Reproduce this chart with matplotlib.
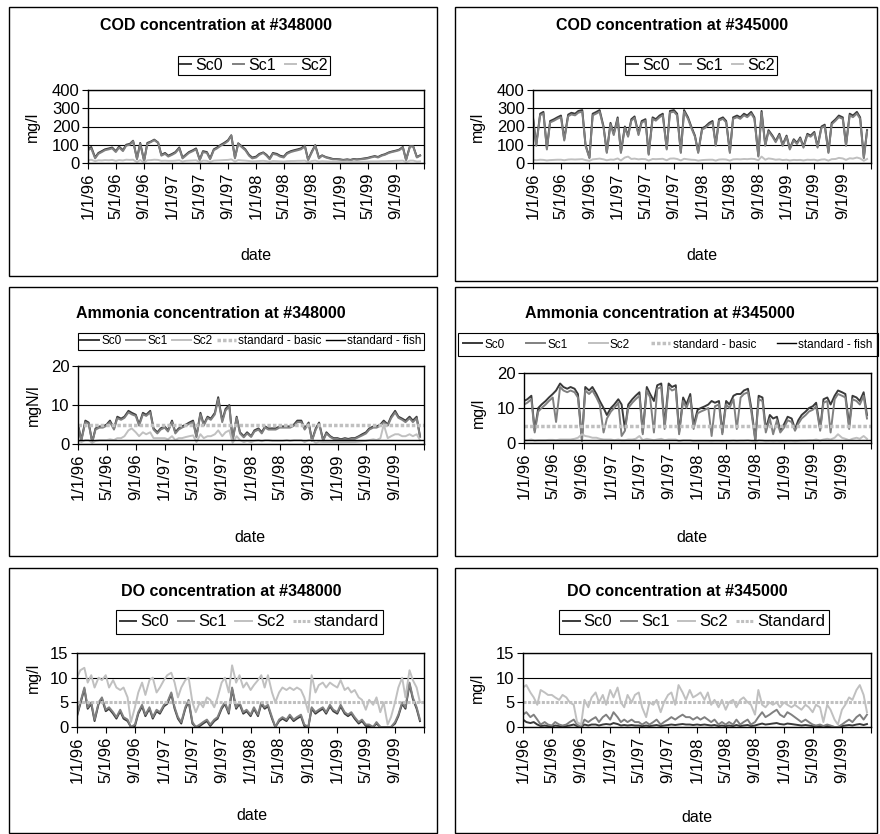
import matplotlib
matplotlib.use('Agg')
import matplotlib.pyplot as plt
import matplotlib.patches as patches
import pandas as pd

plt.rcParams['font.family'] = ['Liberation Sans', 'DejaVu Sans']

# Colours (Excel greyscale)
SC0_COLOR = '#3a3a3a'
SC1_COLOR = '#808080'
SC2_COLOR = '#c0c0c0'
STD_COLOR = '#c0c0c0'

# Semi-monthly sample dates, Jan 1996 - Dec 1999
DATES = pd.date_range('1996-01-01', periods=96, freq='SMS')

TICK_DATES = pd.to_datetime(['1996-01-01', '1996-05-01', '1996-09-01', '1997-01-01',
                             '1997-05-01', '1997-09-01', '1998-01-01', '1998-05-01',
                             '1998-09-01', '1999-01-01', '1999-05-01', '1999-09-01',
                             '2000-01-01'])
TICK_LABELS = ['1/1/96', '5/1/96', '9/1/96', '1/1/97', '5/1/97', '9/1/97', '1/1/98',
               '5/1/98', '9/1/98', '1/1/99', '5/1/99', '9/1/99', '']

# ---- COD at #348000 (mg/l)
cod348_sc0 = [75, 88, 30, 55, 65, 75, 80, 85, 65, 90, 70, 100, 105, 122, 25, 110, 12, 110, 118, 128, 112, 45, 55, 40,
              50, 60, 85, 30, 45, 60, 70, 80, 18, 65, 60, 25, 75, 85, 100, 110, 125, 152, 30, 108, 90, 75, 45, 30,
              35, 50, 58, 45, 25, 55, 50, 40, 35, 55, 65, 70, 75, 80, 95, 18, 65, 98, 30, 42, 32, 28, 22, 22,
              20, 17, 20, 17, 22, 20, 22, 25, 28, 33, 38, 33, 43, 48, 58, 63, 68, 73, 88, 18, 93, 92, 33, 42]
cod348_sc1 = [70, 80, 25, 50, 60, 70, 75, 80, 60, 85, 65, 95, 100, 120, 20, 105, 10, 105, 115, 125, 110, 40, 50, 35,
              45, 55, 80, 25, 40, 55, 65, 75, 15, 60, 55, 20, 70, 80, 95, 105, 120, 150, 25, 105, 85, 70, 40, 25,
              30, 45, 55, 40, 20, 50, 45, 35, 30, 50, 60, 65, 70, 75, 90, 15, 60, 95, 25, 40, 30, 25, 20, 20,
              18, 15, 18, 15, 20, 18, 20, 22, 25, 30, 35, 30, 40, 45, 55, 60, 65, 70, 85, 15, 90, 90, 30, 40]
cod348_sc2 = [15, 18, 10, 15, 14, 16, 15, 17, 12, 16, 14, 18, 17, 18, 5, 16, 3, 15, 16, 18, 17, 12, 13, 12,
              12, 13, 15, 8, 12, 13, 14, 15, 5, 13, 12, 6, 13, 14, 15, 16, 17, 20, 8, 16, 14, 13, 11, 9,
              10, 11, 12, 10, 7, 11, 10, 9, 8, 10, 11, 11, 12, 12, 13, 5, 11, 13, 8, 10, 9, 8, 8, 8,
              7, 6, 7, 6, 7, 7, 7, 8, 8, 9, 9, 9, 10, 10, 11, 11, 12, 12, 13, 5, 13, 13, 8, 9]

# ---- COD at #345000 (mg/l)
cod345_sc0 = [250, 100, 270, 280, 80, 230, 240, 250, 260, 130, 265, 275, 270, 285, 290, 100, 30, 270, 280, 290, 200, 60, 220, 160,
              250, 60, 200, 150, 240, 255, 160, 230, 240, 50, 250, 240, 260, 270, 80, 285, 290, 270, 60, 290, 250, 200, 150, 60,
              190, 200, 220, 230, 100, 240, 250, 230, 60, 250, 260, 250, 270, 260, 280, 250, 40, 285, 100, 180, 150, 120, 160, 100,
              150, 80, 130, 110, 140, 90, 160, 150, 170, 90, 200, 210, 60, 220, 240, 260, 250, 100, 270, 260, 280, 250, 30, 180]
cod345_sc1 = [242, 94, 262, 271, 74, 222, 232, 242, 251, 123, 256, 266, 261, 276, 281, 94, 26, 261, 271, 281, 193, 55, 212, 153,
              242, 55, 193, 144, 232, 247, 153, 222, 232, 45, 242, 232, 251, 261, 74, 276, 281, 261, 55, 281, 242, 193, 144, 55,
              183, 193, 212, 222, 94, 232, 242, 222, 55, 242, 251, 242, 261, 251, 271, 242, 35, 276, 94, 173, 144, 114, 153, 94,
              144, 74, 124, 104, 134, 84, 153, 144, 163, 84, 193, 202, 55, 212, 232, 251, 242, 94, 261, 251, 271, 242, 26, 173]
cod345_sc2 = [18, 15, 18, 17, 14, 16, 17, 18, 18, 15, 19, 20, 19, 20, 21, 16, 12, 20, 22, 24, 20, 15, 19, 18,
              25, 14, 30, 35, 22, 24, 20, 22, 21, 13, 22, 21, 22, 23, 15, 24, 25, 22, 14, 23, 20, 18, 17, 13,
              16, 17, 18, 18, 13, 19, 20, 19, 13, 20, 21, 20, 22, 21, 23, 22, 15, 35, 18, 25, 22, 18, 20, 16,
              18, 14, 17, 16, 17, 14, 18, 17, 18, 14, 19, 20, 13, 21, 22, 28, 25, 17, 26, 24, 30, 25, 12, 22]

# ---- Ammonia at #348000 (mgN/l)
nh3_348_sc0 = [5, 1, 6, 5.5, 0.5, 4, 4.5, 4.5, 5, 6, 4, 7, 6.5, 7, 8.5, 8, 7.5, 5, 8, 7.5, 8.5, 4, 3, 4,
               4.5, 3.5, 6, 3, 4, 4.5, 5, 5.5, 6, 2, 8, 5, 7, 6.5, 8, 12, 6, 9, 10, 1, 7, 3, 2, 3,
               2, 3.5, 4, 3, 4.5, 4, 4, 4, 4.5, 4.5, 4.5, 4.5, 5, 6, 6, 4, 5.5, 1, 4, 5.5, 1, 3, 2, 1.5,
               1.5, 1.2, 1.5, 1.3, 1.5, 1.5, 2, 2.5, 3, 4, 4.5, 4.5, 5, 6, 5, 7, 8.5, 7, 6.5, 6, 7, 6, 7, 2]
nh3_348_sc1 = [4.7, 0.8, 5.6, 5.2, 0.4, 3.7, 4.2, 4.2, 4.7, 5.6, 3.7, 6.6, 6.2, 6.7, 8.1, 7.6, 7.2, 4.7, 7.6, 7.2, 8.1, 3.7, 2.7, 3.7,
               4.2, 3.2, 5.6, 2.7, 3.7, 4.2, 4.7, 5.2, 5.6, 1.7, 7.6, 4.7, 6.7, 6.2, 7.6, 11.5, 5.6, 8.6, 9.6, 0.8, 6.7, 2.7, 1.7, 2.7,
               1.8, 3.2, 3.7, 2.7, 4.2, 3.7, 3.7, 3.7, 4.2, 4.2, 4.2, 4.2, 4.7, 5.6, 5.6, 3.7, 5.2, 0.8, 3.7, 5.2, 0.8, 2.7, 1.8, 1.3,
               1.3, 1, 1.3, 1.1, 1.3, 1.3, 1.8, 2.2, 2.7, 3.7, 4.2, 4.2, 4.7, 5.6, 4.7, 6.6, 8.1, 6.7, 6.2, 5.6, 6.6, 5.6, 6.6, 1.8]
nh3_348_sc2 = [1, 0.5, 1, 1, 0.3, 0.8, 1, 1, 1, 1.2, 1, 1.5, 1.5, 2, 3.5, 4, 3, 2, 3, 2.5, 3, 1.5, 1.5, 1.5,
               1.5, 1.2, 2, 1, 1.5, 1.5, 1.8, 2, 2.2, 0.5, 2.5, 1.5, 2, 2, 2.5, 3.5, 2, 3, 3.5, 0.3, 2, 1, 0.5, 0.8,
               0.5, 0.8, 1, 0.7, 1, 1, 0.8, 0.8, 0.8, 0.8, 1, 0.8, 1, 1, 1, 0.5, 1, 1, 0.3, 0.6, 0.5, 0.5, 0.5, 0.5,
               0.5, 0.5, 0.5, 0.5, 0.5, 0.5, 0.6, 0.7, 0.8, 1, 1.2, 1, 1.5, 5, 1.5, 2, 2.5, 2.5, 2, 2, 2.5, 2, 2.5, 1]

# ---- Ammonia at #345000 (mg/l)
nh3_345_sc0 = [12, 12.5, 13.5, 3.5, 10, 11, 12, 13, 14, 15, 17, 16, 15.5, 16, 15.5, 14, 1, 16, 15, 16, 14, 12, 10, 8,
               10, 11, 12.5, 11, 4, 11, 12.5, 13.5, 14.5, 3, 16, 14, 12, 16.5, 17, 5, 17, 16, 16.5, 3, 13, 11, 14, 5,
               9.5, 10, 10.5, 11, 12, 11.5, 12, 3, 12, 11, 13.5, 14, 14, 15, 15.5, 10, 1, 13.5, 13, 4, 8, 7, 7.5, 3.5,
               5.5, 7.5, 7, 4, 6.5, 8, 9, 10, 10.5, 11.5, 4, 12.5, 13, 11, 13.5, 15, 14.5, 14, 5, 13.5, 13, 12, 14.5, 8]
nh3_345_sc1 = [11, 11.5, 12.5, 3, 9, 10, 11, 12, 13, 6, 16, 15, 14.5, 15, 14.5, 13, 0.5, 15, 14, 15, 13, 11, 3, 7,
               9, 10, 11.5, 2, 3.5, 10, 11.5, 12.5, 13.5, 2.5, 15, 13, 3, 15.5, 16, 4, 16, 15, 15.5, 2.5, 12, 10, 13, 4,
               8.5, 9, 9.5, 10, 2, 10.5, 11, 2.5, 11, 10, 12.5, 4, 13, 14, 14.5, 9, 0.5, 12.5, 12, 3, 7, 2.5, 6.5, 3,
               4.5, 6.5, 6, 3.5, 5.5, 7, 8, 9, 9.5, 10.5, 3.5, 11.5, 12, 3, 12.5, 14, 13.5, 13, 4, 12.5, 12, 11, 13.5, 7]
nh3_345_sc2 = [0.8, 0.8, 1, 0.7, 0.8, 0.8, 0.8, 0.9, 0.9, 0.8, 1, 1, 1, 1, 1.2, 1.5, 2.5, 2, 1.8, 1.5, 1.5, 1.2, 1, 1,
               1, 0.8, 1, 0.8, 0.8, 1, 1, 1.2, 2, 0.8, 1.2, 1, 0.8, 1, 1.2, 0.8, 1, 1, 1, 0.5, 0.8, 0.8, 0.8, 0.5,
               0.6, 0.6, 0.6, 0.6, 0.5, 0.6, 0.6, 0.5, 0.6, 0.6, 0.7, 0.6, 0.7, 0.7, 0.8, 0.6, 0.3, 0.8, 0.7, 0.5, 0.6, 0.5, 0.6, 0.5,
               0.5, 0.6, 0.6, 0.5, 0.6, 0.7, 0.7, 0.8, 0.8, 1, 0.7, 1, 1.2, 1, 1.5, 2.5, 1.5, 1.2, 0.8, 1.2, 1.5, 1.2, 2, 1.2]

# ---- DO at #348000 (mg/l)
do348_sc0 = [2.2, 4.7, 7.7, 3.7, 4.7, 1.2, 4.7, 5.7, 3.2, 3.7, 2.7, 1.7, 3.2, 1.7, 1.2, 0, 0.2, 2.7, 4.2, 2.2, 3.7, 1.7, 3.2, 2.7,
             4.2, 4.7, 6.7, 3.7, 1.7, 0.7, 3.7, 5.2, 0.7, 0, 0.2, 0.7, 1.2, 0.2, 1.2, 1.7, 3.7, 4.7, 2.7, 7.7, 3.7, 4.7, 2.7, 3.2,
             2.2, 3.7, 2.2, 4.7, 3.7, 4.2, 1.7, 0, 1.2, 1.7, 1.2, 2.2, 1.2, 1.7, 2.2, 0.2, 0, 3.7, 2.7, 3.2, 3.7, 2.7, 4.2, 3.2,
             2.7, 4.2, 2.7, 2.2, 2.7, 1.7, 0.7, 1.2, 0.2, 0.2, 0, 0.7, 0, 0, 0, 0, 0.7, 2.2, 4.7, 3.7, 8.7, 5.7, 3.7, 1.2]
do348_sc1 = [2.5, 5, 8, 4, 5, 1.5, 5, 6, 3.5, 4, 3, 2, 3.5, 2, 1.5, 0, 0.5, 3, 4.5, 2.5, 4, 2, 3.5, 3,
             4.5, 5, 7, 4, 2, 1, 4, 5.5, 1, 0, 0.5, 1, 1.5, 0.5, 1.5, 2, 4, 5, 3, 8, 4, 5, 3, 3.5,
             2.5, 4, 2.5, 5, 4, 4.5, 2, 0, 1.5, 2, 1.5, 2.5, 1.5, 2, 2.5, 0.5, 0, 4, 3, 3.5, 4, 3, 4.5, 3.5,
             3, 4.5, 3, 2.5, 3, 2, 1, 1.5, 0.5, 0.5, 0, 1, 0, 0, 0, 0, 1, 2.5, 5, 4, 9, 6, 4, 1.5]
do348_sc2 = [10, 11.5, 12, 9, 10.5, 8, 10, 9.5, 10.5, 8, 9.5, 8, 7.5, 8, 6, 1, 4, 7, 9, 6.5, 9.5, 10, 7, 8,
             9.5, 10.5, 11, 9, 6, 8, 9.5, 10, 5, 3, 5, 4, 6, 5.5, 4, 6, 9, 10, 7, 12.5, 9, 10.5, 8, 9,
             7.5, 8.5, 9.5, 10.5, 8, 10.5, 7, 5, 7, 8, 7.5, 8, 7.5, 8, 7.5, 6, 3, 10.5, 7, 8.5, 9, 8, 9, 8.5,
             8, 9.5, 7.5, 8, 7, 7.5, 6, 5.5, 3.5, 5.5, 4.5, 6, 3, 5, 0.5, 2, 5, 8, 10, 6, 11.5, 9.5, 8, 5]

# ---- DO at #345000 (mg/l)
do345_sc0 = [1.5, 1, 0.8, 1, 0.5, 0.2, 0.3, 0.2, 0.1, 0.3, 0.2, 0.1, 0.2, 0.3, 0.5, 0.2, 0, 0.5, 0.3, 0.5, 0.5, 0.3, 0.5, 0.6,
             0.5, 0.8, 0.6, 0.3, 0.4, 0.3, 0.4, 0.3, 0.3, 0.2, 0.3, 0.2, 0.3, 0.4, 0.2, 0.3, 0.4, 0.5, 0.4, 0.5, 0.6, 0.5, 0.5, 0.4,
             0.5, 0.4, 0.5, 0.4, 0.3, 0.4, 0.2, 0.3, 0.2, 0.3, 0.2, 0.4, 0.2, 0.3, 0.4, 0.2, 0.3, 0.5, 0.7, 0.5, 0.6, 0.7, 0.8, 0.6,
             0.5, 0.7, 0.6, 0.5, 0.4, 0.3, 0.4, 0.3, 0.2, 0.1, 0.2, 0.1, 0.2, 0.1, 0, 0, 0.2, 0.3, 0.4, 0.3, 0.5, 0.6, 0.4, 0.6]
do345_sc1 = [2.5, 3, 2, 2.5, 1.5, 0.5, 1, 0.5, 0.3, 1, 0.5, 0.3, 0.5, 1, 1.5, 0.5, 0, 1.5, 1, 1.5, 2, 1, 2, 2.5,
             1.5, 3, 2, 1, 1.5, 1, 1.5, 1, 1, 0.5, 1, 0.5, 1, 1.5, 0.5, 1, 1.5, 2, 1.5, 2, 2.5, 2, 2, 1.5,
             2, 1.5, 2, 1.5, 1, 1.5, 0.5, 1, 0.5, 1, 0.5, 1.5, 0.5, 1, 1.5, 0.5, 1, 2, 3, 2, 2.5, 3, 3.5, 2.5,
             2, 3, 2.5, 2, 1.5, 1, 1.5, 1, 0.5, 0.3, 0.5, 0.2, 0.5, 0.3, 0, 0, 0.5, 1, 1.5, 1, 2, 2.5, 1.5, 2.5]
do345_sc2 = [8, 8.5, 7, 6, 4.5, 7.5, 7, 6.5, 6.5, 6, 5.5, 6.5, 6, 5, 4.5, 1, 0.5, 5.5, 4, 6, 7, 5, 6.5, 4.5,
             7.5, 6, 8, 5, 4, 6.5, 5, 6.5, 7, 4, 2, 5, 4.5, 5.5, 3, 5, 6.5, 7, 4.5, 8.5, 7, 5.5, 7.5, 6,
             6.5, 7, 5.5, 7, 4.5, 5.5, 4, 5.5, 3.5, 5, 5.5, 4, 5.5, 6, 5, 4.5, 2.5, 7.5, 4.5, 4, 5, 4.5, 5, 4,
             5, 4.5, 4, 4.5, 4, 3.5, 4.5, 4, 3, 4.5, 4, 1, 4.5, 3.5, 1.5, 0.5, 3.5, 4.5, 6, 5.5, 7.5, 8.5, 6.5, 3]

# Standards
NH3_STD_BASIC = 5
NH3_STD_FISH = 1
DO_STD = 5

W, H = 880, 834
fig = plt.figure(figsize=(W / 100, H / 100), dpi=100)


def fx(px):
    return px / W


def fy(py):
    return 1 - py / H


def panel(frame, plot, title, title_xy, ylabel, ylabel_xy, date_xy, yticks,
          lines, legend_xy, legend_kw, hide_grid=None):
    # chart frame
    fx0, fy0, fx1, fy1 = frame
    fig.add_artist(patches.Rectangle((fx(fx0), fy(fy1)), fx(fx1 - fx0), (fy1 - fy0) / H,
                                     transform=fig.transFigure, fill=False,
                                     edgecolor='black', linewidth=1.0))
    l, t, r, b = plot
    ax = fig.add_axes([fx(l), fy(b), fx(r - l), (b - t) / H])
    handles = []
    for vals, kw in lines:
        if isinstance(vals, (int, float)):
            h = ax.axhline(vals, **kw)
        else:
            h, = ax.plot(DATES, vals, **kw)
        handles.append(h)
    ax.set_xlim(pd.Timestamp('1996-01-01'), pd.Timestamp('2000-01-01'))
    ax.set_ylim(yticks[0], yticks[-1])
    ax.set_yticks(yticks)
    ax.set_xticks(TICK_DATES)
    ax.set_xticklabels(TICK_LABELS, rotation=90, fontsize=12)
    ax.tick_params(axis='y', labelsize=12, length=4, direction='out', pad=2)
    ax.tick_params(axis='x', length=4, direction='out', pad=3)
    ax.yaxis.grid(True, color='black', linewidth=0.8)
    ax.set_axisbelow(True)
    if hide_grid is not None:
        # the standard line sits on this gridline and hides it
        ax.yaxis.get_gridlines()[yticks.index(hide_grid)].set_visible(False)
    for s in ax.spines.values():
        s.set_linewidth(1.0)
        s.set_color('black')
    fig.text(fx(title_xy[0]), fy(title_xy[1]), title, ha='center', va='center',
             fontsize=11.5, fontweight='bold')
    fig.text(fx(ylabel_xy[0]), fy(ylabel_xy[1]), ylabel, ha='center', va='center',
             rotation=90, fontsize=11.5)
    fig.text(fx(date_xy[0]), fy(date_xy[1]), 'date', ha='center', va='center', fontsize=11.5)
    leg = ax.legend(handles, [kw['label'] for _, kw in lines], loc='center',
                    bbox_to_anchor=(fx(legend_xy[0]), fy(legend_xy[1])),
                    bbox_transform=fig.transFigure, ncol=len(lines),
                    frameon=True, fancybox=False, edgecolor='black', framealpha=1,
                    borderaxespad=0, **legend_kw)
    leg.get_frame().set_linewidth(0.8)
    return ax


def sc(color, label):
    return dict(color=color, linewidth=1.4, label=label)


basic = dict(color=STD_COLOR, linewidth=2.5, linestyle=(0, (1, 0.6)), label='standard - basic')
fish = dict(color='black', linewidth=1.0, label='standard - fish')

top_leg = dict(fontsize=11.5, borderpad=0.15, handlelength=0.7, handletextpad=0.25, columnspacing=0.6)

# COD panels
panel((9, 7, 437, 276), (88, 90, 424, 163), 'COD concentration at #348000', (216, 25),
      'mg/l', (32, 127), (256, 255), [0, 100, 200, 300, 400],
      [(cod348_sc0, sc(SC0_COLOR, 'Sc0')), (cod348_sc1, sc(SC1_COLOR, 'Sc1')),
       (cod348_sc2, sc(SC2_COLOR, 'Sc2'))], (254, 65.5), top_leg)
panel((455, 7, 877, 281), (533, 90, 871, 163), 'COD concentration at #345000', (672, 25),
      'mg/l', (477, 127), (702, 255), [0, 100, 200, 300, 400],
      [(cod345_sc0, sc(SC0_COLOR, 'Sc0')), (cod345_sc1, sc(SC1_COLOR, 'Sc1')),
       (cod345_sc2, sc(SC2_COLOR, 'Sc2'))], (701, 65.5), top_leg)

# Ammonia panels
panel((9, 287, 437, 556), (78, 366, 424, 444), 'Ammonia concentration at #348000', (211, 313),
      'mgN/l', (33, 405), (250, 537), [0, 10, 20],
      [(nh3_348_sc0, sc(SC0_COLOR, 'Sc0')), (nh3_348_sc1, sc(SC1_COLOR, 'Sc1')),
       (nh3_348_sc2, sc(SC2_COLOR, 'Sc2')), (NH3_STD_BASIC, basic), (NH3_STD_FISH, fish)],
      (251, 341.5), dict(fontsize=8.5, borderpad=0.2, handlelength=1.6, handletextpad=0.2,
                         columnspacing=0.35))
panel((455, 287, 877, 556), (524, 373, 871, 443), 'Ammonia concentration at #345000', (660, 313),
      'mg/l', (478, 413), (692, 537), [0, 10, 20],
      [(nh3_345_sc0, sc(SC0_COLOR, 'Sc0')), (nh3_345_sc1, sc(SC1_COLOR, 'Sc1')),
       (nh3_345_sc2, sc(SC2_COLOR, 'Sc2')), (NH3_STD_BASIC, basic), (NH3_STD_FISH, fish)],
      (668, 344.5), dict(fontsize=8.5, borderpad=0.45, handlelength=1.6, handletextpad=0.2,
                         columnspacing=1.8))

# DO panels
do_std = dict(color=STD_COLOR, linewidth=2.2, linestyle=(0, (1, 0.5)), label='standard')
do_std2 = dict(do_std, label='Standard')
bot_leg = dict(fontsize=12, borderpad=0.25, handlelength=1.0, handletextpad=0.25, columnspacing=0.5)
panel((9, 568, 437, 833), (77, 653, 424, 727), 'DO concentration at #348000', (231, 592),
      'mg/l', (33, 678), (252, 815), [0, 5, 10, 15],
      [(do348_sc0, sc(SC0_COLOR, 'Sc0')), (do348_sc1, sc(SC1_COLOR, 'Sc1')),
       (do348_sc2, sc(SC2_COLOR, 'Sc2')), (DO_STD, do_std)], (249.5, 622), bot_leg,
      hide_grid=DO_STD)
panel((455, 568, 877, 833), (523, 653, 871, 727), 'DO concentration at #345000', (677, 592),
      'mg/l', (477, 688), (697, 818), [0, 5, 10, 15],
      [(do345_sc0, sc(SC0_COLOR, 'Sc0')), (do345_sc1, sc(SC1_COLOR, 'Sc1')),
       (do345_sc2, sc(SC2_COLOR, 'Sc2')), (DO_STD, do_std2)], (694, 622), bot_leg,
      hide_grid=DO_STD)

fig.savefig('out.png', dpi=100)
plt.close(fig)
